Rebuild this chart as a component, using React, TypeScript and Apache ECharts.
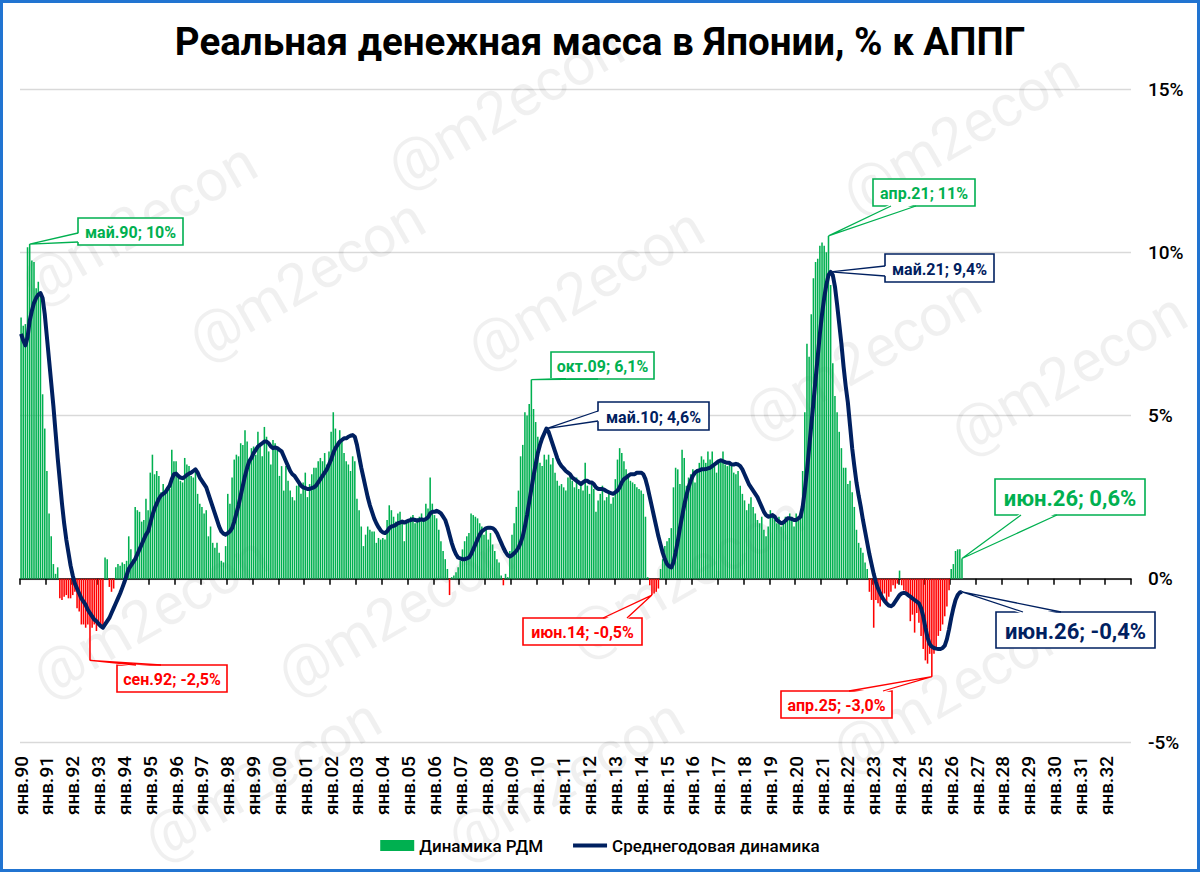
import React, { useEffect, useRef } from "react";
import * as echarts from "echarts";

// ---------- categories / tick labels ----------
const MONTHS = ["янв", "фев", "мар", "апр", "май", "июн", "июл", "авг", "сен", "окт", "ноя", "дек"];
const FIRST_YEAR = 1990;
const LAST_YEAR = 2032;

const TITLE = "Реальная денежная масса в Японии, % к АППГ";
const BAR_NAME = "Динамика РДМ";
const LINE_NAME = "Среднегодовая динамика";

// ---------- series values (% y/y), monthly from янв.90 ----------
const RDM_1990S = [
  8.0, 7.75, 7.8, 10.15, 10.25, 9.75, 9.7, 8.9, 9.1, 8.8, 5.65, 4.6,
  3.3, 2.0, 1.3, 0.45, 0.15, 0.35, -0.6, -0.65, -0.55, -0.5, -0.6, -0.6,
  -0.5, -0.4, -0.9, -1.0, -1.4, -1.4, -1.5, -1.4, -2.5, -1.5, -1.4, -1.6,
  -1.45, -1.5, -1.45, 0.65, 0.6, -0.25, -0.4, -0.3, 0.35, 0.45, 0.4, 0.5,
  0.45, 0.55, 1.3, 0.9, 0.6, 2.2, 2.1, 2.05, 1.75, 1.8, 2.45, 2.1,
  3.25, 3.8, 3.2, 3.3, 3.15, 2.65, 2.9, 2.7, 2.8, 2.75, 3.95, 3.6,
  3.6, 3.1, 3.0, 2.95, 3.7, 3.5, 3.45, 3.15, 3.1, 3.3, 2.6, 2.3,
  2.2, 2.0, 2.1, 1.3, 1.6, 1.1, 0.95, 1.1, 0.8, 0.55, 0.5, 1.0,
  2.6, 2.3, 3.1, 3.65, 3.8, 3.75, 4.15, 4.1, 4.55, 4.2, 3.6, 4.0,
  4.05, 3.8, 4.5, 4.1, 3.75, 4.65, 4.35, 3.9, 3.5, 4.25, 4.15, 4.0,
];
const RDM_2000S = [
  3.15, 3.45, 2.7, 3.45, 3.0, 2.7, 2.5, 2.4, 2.85, 3.0, 2.6, 2.95,
  3.25, 2.5, 2.9, 3.2, 3.4, 3.4, 3.6, 3.7, 3.6, 3.85, 3.5, 3.9,
  4.5, 5.1, 4.6, 4.2, 4.55, 4.2, 3.85, 3.6, 3.5, 3.3, 3.75, 3.6,
  2.45, 2.1, 1.6, 1.0, 1.35, 1.6, 1.5, 1.45, 1.45, 1.1, 1.25, 1.2,
  1.25, 1.2, 1.8, 2.25, 2.1, 1.9, 1.75, 2.0, 2.05, 1.7, 1.15, 1.8,
  1.8, 1.9, 1.95, 1.7, 1.85, 1.9, 2.0, 1.85, 2.3, 2.15, 3.1, 2.3,
  1.95, 1.85, 1.5, 1.15, 0.85, 0.6, 0.3, -0.5, 0.05, 0.1, 0.2, 0.35,
  0.55, 0.9, 1.15, 1.3, 1.4, 2.0, 1.95, 1.9, 1.85, 1.7, 1.6, 1.35,
  1.5, 1.2, 1.4, 1.05, 0.85, 0.6, 0.5, 0.1, -0.2, 0.15, 0.05, 0.85,
  1.35, 1.7, 2.2, 2.7, 3.75, 4.1, 5.1, 5.0, 5.35, 6.1, 5.2, 4.8,
];
const RDM_2010S = [
  4.35, 3.55, 3.45, 3.8, 3.65, 3.8, 3.5, 3.7, 3.25, 3.0, 2.85, 2.9,
  2.8, 2.7, 3.1, 3.15, 3.0, 2.8, 3.1, 2.75, 2.85, 2.7, 3.55, 2.85,
  2.6, 2.9, 2.75, 2.05, 2.4, 2.6, 2.85, 2.4, 2.5, 2.6, 2.3, 2.5,
  3.05, 3.65, 4.0, 3.85, 3.6, 3.35, 3.15, 3.0, 2.95, 2.9, 2.8, 2.75,
  2.7, 2.6, 1.9, 0.05, -0.2, -0.5, -0.45, -0.4, -0.3, 0.3, 0.6, 1.0,
  1.15, 1.25, 1.55, 2.8, 3.4, 3.35, 2.9, 3.95, 3.7, 2.85, 3.1, 3.2,
  3.35, 2.95, 3.35, 3.55, 3.75, 3.65, 3.55, 3.9, 3.65, 3.9, 3.45, 3.25,
  3.55, 3.65, 3.9, 3.5, 3.45, 3.55, 3.45, 3.25, 3.2, 3.3, 2.85, 2.6,
  2.4, 2.1, 2.3, 2.5, 2.2, 2.0, 1.8, 1.7, 1.9, 1.5, 1.3, 1.6,
  2.1, 1.9, 1.8, 1.7, 1.9, 1.6, 1.7, 1.9, 1.8, 2.0, 1.9, 1.6,
];
const RDM_2020S = [
  2.0, 1.8, 1.9, 3.3, 5.1, 7.2, 6.8, 8.1, 9.2, 9.7, 9.8, 10.2,
  10.3, 10.2, 10.0, 10.5, 9.0, 6.6, 5.6, 5.1, 4.5, 4.0, 3.4, 3.4,
  2.9, 3.0, 2.65, 2.2, 1.5, 1.1, 0.95, 0.8, 0.5, 0.3, -0.4, -0.65,
  -1.5, -0.65, -0.75, -0.85, -0.65, -0.45, -0.8, -0.55, -0.4, -0.2, -0.3, -0.15,
  0.25, -0.2, -0.35, -0.45, -0.5, -1.3, -1.1, -1.65, -1.05, -1.35, -1.75, -2.15,
  -2.5, -2.6, -2.3, -3.0, -2.3, -2.15, -1.75, -1.6, -1.4, -1.15, -0.85, -0.35,
  0.3, 0.45, 0.85, 0.9, 0.9, 0.62,
];

const AVG_1990S = [
  7.5, 7.3, 7.15, 7.4, 7.9, 8.2, 8.45, 8.6, 8.7, 8.75, 8.6, 8.1,
  7.4, 6.7, 6.0, 5.3, 4.5, 3.7, 3.0, 2.3, 1.7, 1.2, 0.8, 0.4,
  0.1, -0.15, -0.3, -0.45, -0.6, -0.7, -0.8, -0.95, -1.05, -1.15, -1.25, -1.3,
  -1.38, -1.45, -1.5, -1.4, -1.3, -1.2, -1.05, -0.9, -0.75, -0.6, -0.45, -0.28,
  -0.1, 0.1, 0.3, 0.4, 0.5, 0.6, 0.75, 0.9, 1.05, 1.2, 1.35, 1.45,
  1.7, 1.95, 2.15, 2.3, 2.45, 2.55, 2.6, 2.65, 2.75, 2.85, 3.05, 3.2,
  3.22, 3.15, 3.1, 3.08, 3.12, 3.18, 3.22, 3.25, 3.3, 3.35, 3.25, 3.1,
  3.0, 2.9, 2.8, 2.6, 2.4, 2.2, 2.0, 1.8, 1.6, 1.45, 1.38, 1.35,
  1.4, 1.45, 1.55, 1.75, 2.0, 2.25, 2.55, 2.85, 3.15, 3.4, 3.6, 3.7,
  3.85, 3.95, 4.05, 4.1, 4.15, 4.2, 4.2, 4.15, 4.05, 4.0, 4.02, 4.0,
];
const AVG_2000S = [
  3.95, 3.9, 3.75, 3.6, 3.45, 3.3, 3.2, 3.15, 3.05, 2.95, 2.85, 2.8,
  2.78, 2.75, 2.75, 2.78, 2.8, 2.85, 2.95, 3.05, 3.15, 3.25, 3.35, 3.5,
  3.65, 3.85, 4.0, 4.1, 4.2, 4.25, 4.3, 4.3, 4.35, 4.38, 4.4, 4.35,
  4.1, 3.75, 3.4, 3.1, 2.8, 2.5, 2.25, 2.05, 1.85, 1.7, 1.58, 1.48,
  1.42, 1.4, 1.45, 1.55, 1.6, 1.62, 1.65, 1.7, 1.72, 1.75, 1.72, 1.75,
  1.78, 1.8, 1.82, 1.8, 1.78, 1.8, 1.82, 1.8, 1.83, 1.88, 2.0, 2.05,
  2.05, 2.08, 2.05, 2.0, 1.9, 1.8, 1.6, 1.35, 1.1, 0.9, 0.75, 0.65,
  0.62, 0.6, 0.6, 0.62, 0.65, 0.75, 0.9, 1.05, 1.2, 1.35, 1.45, 1.5,
  1.55, 1.56, 1.56, 1.55, 1.5, 1.4, 1.25, 1.1, 0.95, 0.82, 0.72, 0.68,
  0.72, 0.78, 0.85, 0.95, 1.1, 1.3, 1.6, 1.95, 2.35, 2.75, 3.15, 3.5,
];
const AVG_2010S = [
  3.85, 4.1, 4.3, 4.45, 4.6, 4.5, 4.3, 4.1, 3.9, 3.7, 3.55, 3.45,
  3.38, 3.3, 3.25, 3.2, 3.1, 3.05, 3.0, 2.95, 2.9, 2.95, 3.0, 3.0,
  2.95, 2.95, 2.9, 2.8, 2.75, 2.75, 2.75, 2.72, 2.68, 2.65, 2.62, 2.6,
  2.65, 2.7, 2.8, 2.95, 3.05, 3.1, 3.15, 3.2, 3.2, 3.2, 3.25, 3.25,
  3.25, 3.2, 3.05, 2.8, 2.5, 2.2, 1.9, 1.6, 1.3, 1.05, 0.8, 0.6,
  0.45, 0.38, 0.35, 0.5, 0.8, 1.15, 1.55, 1.9, 2.25, 2.55, 2.8, 3.0,
  3.15, 3.25, 3.3, 3.32, 3.35, 3.35, 3.36, 3.38, 3.4, 3.45, 3.5, 3.55,
  3.6, 3.63, 3.6, 3.57, 3.55, 3.55, 3.5, 3.5, 3.52, 3.5, 3.45, 3.35,
  3.2, 3.05, 2.9, 2.8, 2.7, 2.6, 2.5, 2.35, 2.2, 2.05, 1.95, 1.9,
  1.92, 1.95, 1.9, 1.8, 1.75, 1.7, 1.72, 1.78, 1.85, 1.85, 1.83, 1.8,
];
const AVG_2020S = [
  1.8, 1.85, 1.9, 2.2, 2.7, 3.3, 4.0, 4.7, 5.4, 6.1, 6.8, 7.5,
  8.1, 8.6, 9.0, 9.3, 9.4, 9.3, 8.95, 8.4, 7.8, 7.2, 6.5, 5.9,
  5.4, 4.7, 4.0, 3.45, 2.95, 2.55, 2.2, 1.8, 1.45, 1.1, 0.75, 0.45,
  0.15, -0.1, -0.3, -0.45, -0.58, -0.68, -0.76, -0.82, -0.84, -0.8, -0.7, -0.6,
  -0.5, -0.45, -0.43, -0.45, -0.5, -0.55, -0.6, -0.65, -0.7, -0.75, -0.9, -1.15,
  -1.5, -1.8, -2.0, -2.08, -2.12, -2.14, -2.15, -2.15, -2.12, -2.05, -1.85, -1.55,
  -1.2, -0.9, -0.65, -0.5, -0.42, -0.4,
];

// ---------- callouts ----------
type Callout = {
  cat: string;
  src: "bar" | "line";
  text: string;
  color: string;
  box: [number, number, number, number];
  edge: "left" | "top" | "bottom";
  base: [number, number];
  font: number;
};

const GREEN = "#00b050";
const RED = "#ff0000";
const NAVY = "#002060";
const FONT = "Roboto, 'Noto Sans', 'DejaVu Sans', sans-serif";

const CALLOUTS: Callout[] = [
  { cat: "май.90", src: "bar", text: "май.90; 10%", color: GREEN, box: [78, 218, 105, 27], edge: "left", base: [233, 242], font: 16 },
  { cat: "сен.92", src: "bar", text: "сен.92; -2,5%", color: RED, box: [117, 665, 110, 27], edge: "top", base: [136, 161], font: 16 },
  { cat: "окт.09", src: "bar", text: "окт.09; 6,1%", color: GREEN, box: [551, 352, 103, 27], edge: "bottom", base: [566, 598], font: 16 },
  { cat: "май.10", src: "line", text: "май.10; 4,6%", color: NAVY, box: [598, 402, 111, 28], edge: "left", base: [411, 421], font: 16 },
  { cat: "июн.14", src: "bar", text: "июн.14; -0,5%", color: RED, box: [523, 618, 119, 27], edge: "top", base: [603, 627], font: 16 },
  { cat: "апр.21", src: "bar", text: "апр.21; 11%", color: GREEN, box: [873, 179, 102, 27], edge: "bottom", base: [891, 916], font: 16 },
  { cat: "май.21", src: "line", text: "май.21; 9,4%", color: NAVY, box: [885, 254, 109, 28], edge: "left", base: [266, 276], font: 16 },
  { cat: "июн.26", src: "bar", text: "июн.26; 0,6%", color: GREEN, box: [995, 479, 150, 36], edge: "bottom", base: [1021, 1057], font: 22 },
  { cat: "июн.26", src: "line", text: "июн.26; -0,4%", color: NAVY, box: [996, 612, 159, 36], edge: "top", base: [1023, 1061], font: 22 },
  { cat: "апр.25", src: "bar", text: "апр.25; -3,0%", color: RED, box: [781, 691, 111, 27], edge: "top", base: [849, 883], font: 16 },
];

const WATERMARKS: [number, number][] = [
  [505, 106], [960, 132], [138, 222], [306, 278], [585, 287], [862, 357], [1068, 372],
  [150, 615], [395, 613], [685, 575], [950, 690], [262, 778], [565, 778],
];

// ---------- derived tables ----------
const CATEGORIES: string[] = [];
for (let y = FIRST_YEAR; y <= LAST_YEAR; y++) {
  for (const m of MONTHS) CATEGORIES.push(`${m}.${String(y % 100).padStart(2, "0")}`);
}
const BARS = [...RDM_1990S, ...RDM_2000S, ...RDM_2010S, ...RDM_2020S];
const LINE = [...AVG_1990S, ...AVG_2000S, ...AVG_2010S, ...AVG_2020S];

function watermarkElements() {
  return WATERMARKS.map(([x, y], k) => ({
    type: "text",
    id: `wm${k}`,
    z: 1,
    silent: true,
    x,
    y,
    rotation: 0.52,
    style: {
      text: "@m2econ",
      font: `normal 58px ${FONT}`,
      fill: "rgba(0,0,0,0.06)",
      textAlign: "center",
      textVerticalAlign: "middle",
    },
  }));
}

function calloutElements(chart: echarts.ECharts) {
  const els: any[] = [];
  CALLOUTS.forEach((a, k) => {
    const idx = CATEGORIES.indexOf(a.cat);
    const val = a.src === "bar" ? BARS[idx] : LINE[idx];
    const pt = chart.convertToPixel({ gridIndex: 0 }, [idx, val]) as number[];
    const px = pt[0];
    const py = pt[1];
    const [bx, by, bw, bh] = a.box;
    let p1: number[], p2: number[], q1: number[], q2: number[];
    if (a.edge === "left") {
      p1 = [bx, a.base[0]]; p2 = [bx, a.base[1]];
      q1 = [bx + 2, a.base[0]]; q2 = [bx + 2, a.base[1]];
    } else if (a.edge === "top") {
      p1 = [a.base[0], by]; p2 = [a.base[1], by];
      q1 = [a.base[0], by + 2]; q2 = [a.base[1], by + 2];
    } else {
      p1 = [a.base[0], by + bh]; p2 = [a.base[1], by + bh];
      q1 = [a.base[0], by + bh - 2]; q2 = [a.base[1], by + bh - 2];
    }
    els.push({
      type: "rect", id: `cb${k}`, z: 100,
      shape: { x: bx, y: by, width: bw, height: bh },
      style: { fill: "#fff", stroke: a.color, lineWidth: 1.6 },
    });
    els.push({
      type: "polygon", id: `cf${k}`, z: 101,
      shape: { points: [[px, py], q1, q2] },
      style: { fill: "#fff", stroke: "none" },
    });
    els.push({
      type: "polyline", id: `cl${k}`, z: 102,
      shape: { points: [p1, [px, py], p2] },
      style: { stroke: a.color, lineWidth: 1.3, fill: "none" },
    });
    els.push({
      type: "text", id: `ct${k}`, z: 103,
      x: bx + bw / 2, y: by + bh / 2 + 1,
      style: {
        text: a.text,
        font: `bold ${a.font}px ${FONT}`,
        fill: a.color,
        textAlign: "center",
        textVerticalAlign: "middle",
      },
    });
  });
  return els;
}

export default function App() {
  const ref = useRef<HTMLDivElement>(null);

  useEffect(() => {
    if (!ref.current) return;
    const chart = echarts.init(ref.current, undefined, { renderer: "svg" });
    const option: any = {
      animation: false,
      backgroundColor: "#ffffff",
      textStyle: { fontFamily: FONT },
      title: {
        text: TITLE,
        left: "center",
        top: 17,
        textStyle: { fontFamily: FONT, fontSize: 38.5, fontWeight: "bold", color: "#000" },
      },
      grid: { left: 20, right: 69, top: 89, bottom: 130, containLabel: false },
      legend: {
        left: "center",
        top: 832,
        itemWidth: 34,
        itemHeight: 11,
        itemGap: 30,
        textStyle: { fontFamily: FONT, fontSize: 17, fontWeight: 500, color: "#000" },
        data: [
          { name: BAR_NAME, icon: "rect", itemStyle: { color: GREEN } },
          { name: LINE_NAME, icon: "path://M0,0L34,0L34,4L0,4Z", itemStyle: { color: NAVY } },
        ],
      },
      xAxis: [
        {
          type: "category",
          data: CATEGORIES,
          boundaryGap: true,
          axisLine: { onZero: true, lineStyle: { color: "#000", width: 1.5 } },
          axisTick: { show: true, interval: 11, length: 6, lineStyle: { color: "#000", width: 1.5 } },
          axisLabel: { show: false },
          splitLine: { show: false },
        },
        {
          type: "category",
          data: CATEGORIES,
          position: "bottom",
          boundaryGap: true,
          axisLine: { show: false, onZero: false },
          axisTick: { show: false },
          axisLabel: {
            interval: 11,
            rotate: 90,
            margin: 14,
            fontFamily: FONT,
            fontSize: 19,
            fontWeight: 500,
            color: "#000",
          },
          splitLine: { show: false },
        },
      ],
      yAxis: {
        type: "value",
        position: "right",
        min: -5,
        max: 15,
        interval: 5,
        axisLine: { show: false },
        axisTick: { show: false },
        splitLine: { lineStyle: { color: "#d9d9d9", width: 1.3 } },
        axisLabel: { formatter: "{value}%", margin: 17, fontFamily: FONT, fontSize: 19, fontWeight: 500, color: "#000" },
      },
      series: [
        {
          name: BAR_NAME,
          type: "bar",
          xAxisIndex: 0,
          yAxisIndex: 0,
          data: BARS,
          barWidth: "72%",
          itemStyle: { color: (p: any) => (p.value >= 0 ? GREEN : RED) },
          z: 2,
        },
        {
          name: LINE_NAME,
          type: "line",
          xAxisIndex: 0,
          yAxisIndex: 0,
          data: LINE,
          symbol: "none",
          lineStyle: { color: NAVY, width: 4, join: "round" },
          itemStyle: { color: NAVY },
          z: 3,
        },
      ],
    };
    chart.setOption(option);
    chart.setOption({ graphic: [...watermarkElements(), ...calloutElements(chart)] });
    return () => chart.dispose();
  }, []);

  return (
    <div style={{ position: "absolute", left: 0, top: 0, width: 1200, height: 872, background: "#fff" }}>
      <div ref={ref} style={{ position: "absolute", left: 0, top: 0, width: 1200, height: 872 }} />
      <div
        style={{
          position: "absolute",
          left: 0,
          top: 0,
          width: 1200,
          height: 872,
          boxSizing: "border-box",
          border: "3px solid #2174d1",
          pointerEvents: "none",
        }}
      />
    </div>
  );
}
